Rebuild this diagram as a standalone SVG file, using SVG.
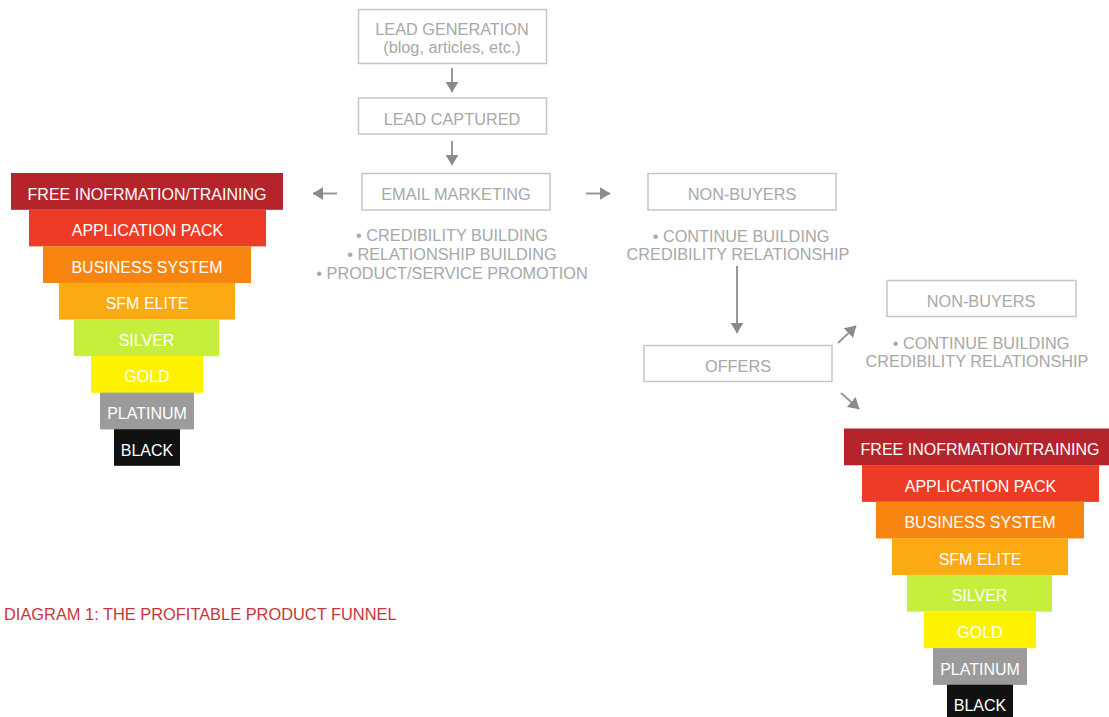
<svg xmlns="http://www.w3.org/2000/svg" width="1109" height="717" viewBox="0 0 1109 717">
<style>
.box{fill:#fff;stroke:#c6c6c6;stroke-width:1.5}
.gt{font-family:"Liberation Sans",Arial,sans-serif;font-size:16.3px;fill:#a8a8a8;text-anchor:middle}
.ft{font-family:"Liberation Sans",Arial,sans-serif;font-size:16px;fill:#fff;text-anchor:middle}
.cap{font-family:"Liberation Sans",Arial,sans-serif;font-size:16.4px;fill:#c8343c}
.arr{stroke:#999;stroke-width:2;fill:none;marker-end:url(#ah)}
.c1{fill:#b5232b}.c2{fill:#ee3b26}.c3{fill:#f7850f}.c4{fill:#fbaa14}.c5{fill:#c5ef3c}.c6{fill:#fff200}.c7{fill:#9b9b9b}.c8{fill:#111}
</style>
<defs>
<marker id="ah" viewBox="0 0 10 12" refX="9.5" refY="6" markerWidth="5.5" markerHeight="6.6" orient="auto" markerUnits="strokeWidth">
<path d="M0,0 L10,6 L0,12 z" fill="#8a8a8a"/>
</marker>
</defs>
<rect width="1109" height="717" fill="#fff"/>

<g id="lead-generation">
<rect class="box" x="358.5" y="9.5" width="188" height="54"/>
<text class="gt" x="452" y="35">LEAD GENERATION</text>
<text class="gt" x="452" y="53">(blog, articles, etc.)</text>
</g>
<g id="lead-captured">
<rect class="box" x="358.5" y="98" width="188" height="36"/>
<text class="gt" x="452" y="125">LEAD CAPTURED</text>
</g>
<g id="email-marketing">
<rect class="box" x="362" y="173.5" width="188" height="36.5"/>
<text class="gt" x="456" y="200">EMAIL MARKETING</text>
<text class="gt" x="452" y="241">• CREDIBILITY BUILDING</text>
<text class="gt" x="452" y="260">• RELATIONSHIP BUILDING</text>
<text class="gt" x="452" y="279">• PRODUCT/SERVICE PROMOTION</text>
</g>
<g id="non-buyers-1">
<rect class="box" x="648" y="173.5" width="188" height="36.5"/>
<text class="gt" x="742" y="200">NON-BUYERS</text>
<text class="gt" x="741" y="241.5">• CONTINUE BUILDING</text>
<text class="gt" x="738" y="259.5">CREDIBILITY RELATIONSHIP</text>
</g>
<g id="offers">
<rect class="box" x="644" y="345.5" width="188" height="36"/>
<text class="gt" x="738" y="372">OFFERS</text>
</g>
<g id="non-buyers-2">
<rect class="box" x="887" y="280.5" width="189" height="36"/>
<text class="gt" x="981" y="307">NON-BUYERS</text>
<text class="gt" x="981" y="349">• CONTINUE BUILDING</text>
<text class="gt" x="977" y="367">CREDIBILITY RELATIONSHIP</text>
</g>

<g id="connectors">
<line class="arr" x1="452" y1="68" x2="452" y2="92"/>
<line class="arr" x1="452" y1="141" x2="452" y2="165"/>
<line class="arr" x1="337" y1="193.5" x2="313" y2="193.5"/>
<line class="arr" x1="586" y1="193.5" x2="610" y2="193.5"/>
<line class="arr" x1="737" y1="266" x2="737" y2="333"/>
<line class="arr" x1="838" y1="343" x2="856" y2="326"/>
<line class="arr" x1="841" y1="393" x2="859" y2="409"/>
</g>

<g id="funnel-left">
<g id="fl-1"><rect class="c1" x="11" y="173" width="272" height="36.8"/><text class="ft" x="147" y="199.5">FREE INOFRMATION/TRAINING</text></g>
<g id="fl-2"><rect class="c2" x="29" y="209.6" width="237" height="36.8"/><text class="ft" x="147.5" y="236">APPLICATION PACK</text></g>
<g id="fl-3"><rect class="c3" x="43" y="246.2" width="208" height="36.8"/><text class="ft" x="147" y="272.6">BUSINESS SYSTEM</text></g>
<g id="fl-4"><rect class="c4" x="59" y="282.8" width="176" height="36.8"/><text class="ft" x="147" y="309.2">SFM ELITE</text></g>
<g id="fl-5"><rect class="c5" x="74" y="319.4" width="145" height="36.8"/><text class="ft" x="146.5" y="345.8">SILVER</text></g>
<g id="fl-6"><rect class="c6" x="91" y="356" width="112" height="36.8"/><text class="ft" x="147" y="382.4">GOLD</text></g>
<g id="fl-7"><rect class="c7" x="100" y="392.6" width="94" height="36.8"/><text class="ft" x="147" y="419">PLATINUM</text></g>
<g id="fl-8"><rect class="c8" x="114" y="429.2" width="66" height="36.6"/><text class="ft" x="147" y="455.6">BLACK</text></g>
</g>

<g id="funnel-right">
<g id="fr-1"><rect class="c1" x="844" y="428.5" width="272" height="36.8"/><text class="ft" x="980" y="455">FREE INOFRMATION/TRAINING</text></g>
<g id="fr-2"><rect class="c2" x="862" y="465.1" width="237" height="36.8"/><text class="ft" x="980.5" y="491.5">APPLICATION PACK</text></g>
<g id="fr-3"><rect class="c3" x="876" y="501.7" width="208" height="36.8"/><text class="ft" x="980" y="528.1">BUSINESS SYSTEM</text></g>
<g id="fr-4"><rect class="c4" x="892" y="538.3" width="176" height="36.8"/><text class="ft" x="980" y="564.7">SFM ELITE</text></g>
<g id="fr-5"><rect class="c5" x="907" y="574.9" width="145" height="36.8"/><text class="ft" x="979.5" y="601.3">SILVER</text></g>
<g id="fr-6"><rect class="c6" x="924" y="611.5" width="112" height="36.8"/><text class="ft" x="980" y="637.9">GOLD</text></g>
<g id="fr-7"><rect class="c7" x="933" y="648.1" width="94" height="36.8"/><text class="ft" x="980" y="674.5">PLATINUM</text></g>
<g id="fr-8"><rect class="c8" x="947" y="684.7" width="66" height="36.6"/><text class="ft" x="980" y="711.1">BLACK</text></g>
</g>

<g id="caption">
<text class="cap" x="4" y="620">DIAGRAM 1: THE PROFITABLE PRODUCT FUNNEL</text>
</g>
</svg>
